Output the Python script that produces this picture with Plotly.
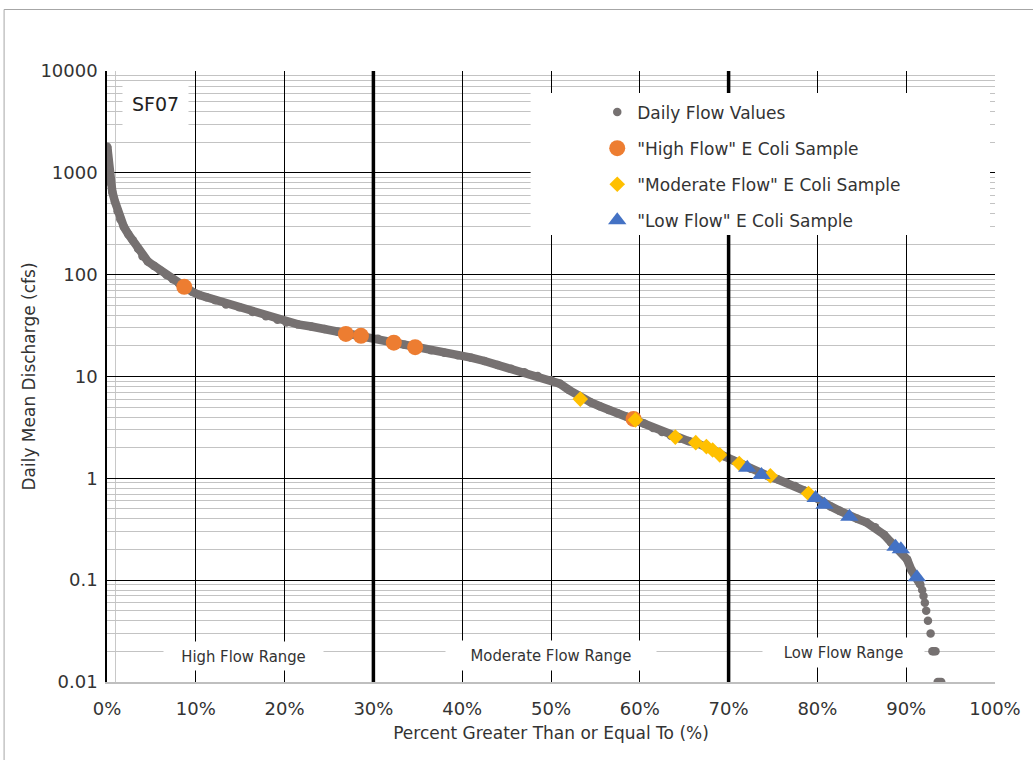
import plotly.graph_objects as go

# ---------------- data ----------------
flow_pct = [0.03, 0.06, 0.09, 0.12, 0.16, 0.2, 0.25, 0.3, 0.4, 0.6, 0.9, 1.2, 1.5, 1.9, 2.4,
            2.9, 3.5, 4.0, 4.6, 5.3, 6.0, 6.7, 7.4, 8.1, 8.8, 9.6, 10.4, 11.2, 12.2, 13.4,
            14.9, 16.4, 17.9, 19.2, 20.2, 21.5, 23.0, 24.5, 26.0, 27.5, 29.0, 30.5, 32.0,
            33.5, 35.0, 36.5, 38.0, 39.5, 41.0, 42.5, 44.0, 45.5, 47.0, 48.5, 50.0, 51.0,
            52.0, 53.3, 54.5, 55.5, 56.5, 57.5, 58.5, 59.5, 60.5, 61.5, 62.5, 63.5, 64.5,
            65.5, 66.5, 67.5, 68.5, 69.5, 70.5, 71.5, 72.5, 73.5, 74.5, 75.5, 76.5, 77.5,
            78.5, 79.5, 80.5, 81.5, 82.5, 83.5, 84.5, 85.5, 86.5, 87.5, 88.3, 89.0, 89.6,
            90.1, 90.6, 91.0, 91.35, 91.6]
flow_cfs = [1800, 1650, 1500, 1350, 1200, 1080, 980, 900, 800, 650, 520, 420, 350, 295, 250,
            218, 180, 152, 135, 122, 110, 99, 90, 82, 75, 68, 63, 60, 56, 51,
            48, 43, 39, 36, 34, 32.5, 31, 29.3, 27.5, 26, 25, 23.5, 22,
            20.5, 19.3, 18.1, 17.1, 16.2, 15.3, 14.2, 13.0, 11.9, 11.0, 10.1, 9.2, 8.5,
            7.4, 6.2, 5.55, 5.1, 4.7, 4.35, 4.05, 3.75, 3.45, 3.12, 2.85, 2.62, 2.45,
            2.32, 2.2, 2.04, 1.85, 1.65, 1.5, 1.38, 1.24, 1.12, 1.05, 0.98, 0.91, 0.84,
            0.76, 0.67, 0.58, 0.53, 0.48, 0.43, 0.40, 0.37, 0.33, 0.28, 0.235, 0.205, 0.185,
            0.16, 0.125, 0.11, 0.10, 0.09]
# low-flow tail where individual daily values show as separate dots
tail_pct = [91.8, 91.95, 92.1, 92.25, 92.45, 92.75, 92.95, 93.1, 93.3, 93.55, 93.75, 93.95]
tail_cfs = [0.08, 0.07, 0.06, 0.05, 0.04, 0.03, 0.02, 0.02, 0.02, 0.01, 0.01, 0.01]

high_pct = [8.7, 26.9, 28.6, 32.3, 34.7, 59.3]
high_cfs = [76, 26.2, 25.1, 21.5, 19.4, 3.83]

mod_pct = [53.3, 59.5, 64.0, 66.3, 67.5, 68.2, 69.0, 71.2, 74.7, 79.0]
mod_cfs = [6.0, 3.75, 2.54, 2.24, 2.05, 1.90, 1.70, 1.40, 1.06, 0.71]

low_pct = [72.1, 73.7, 79.8, 80.8, 83.6, 88.8, 89.4, 91.2]
low_cfs = [1.27, 1.08, 0.64, 0.55, 0.42, 0.213, 0.201, 0.107]

x_ticks = [0, 10, 20, 30, 40, 50, 60, 70, 80, 90, 100]
x_ticktext = [f"{v}%" for v in x_ticks]
y_ticks = [0.01, 0.1, 1, 10, 100, 1000, 10000]
y_ticktext = ["0.01", "0.1", "1", "10", "100", "1000", "10000"]
y_minor = [k * 10.0 ** e for e in range(-2, 4) for k in range(2, 10)]
range_bounds = [30, 70]
range_labels = ["High Flow Range", "Moderate Flow Range", "Low Flow Range"]
station = "SF07"

# ---------------- style ----------------
GRAY = "#767171"
ORANGE = "#ED7D31"
YELLOW = "#FFC000"
BLUE = "#4472C4"
TXT = "#333333"
FONT = "DejaVu Sans"

W, H = 1033, 760
ML, MT = 107, 71
PW, PH = 893, 611
MR, MB = W - ML - PW, H - MT - PH


def px(xp):  # page pixel x -> paper
    return (xp - ML) / PW


def py(yp):  # page pixel y -> paper
    return (MT + PH - yp) / PH


fig = go.Figure()

fig.add_trace(go.Scatter(x=flow_pct, y=flow_cfs, mode="lines",
                         line=dict(color=GRAY, width=8.5), showlegend=False,
                         legendgroup="g1", hoverinfo="skip"))
fig.add_trace(go.Scatter(x=flow_pct + tail_pct, y=flow_cfs + tail_cfs, mode="markers",
                         marker=dict(color=GRAY, size=8.5), name="Daily Flow Values",
                         legendgroup="g1"))
fig.add_trace(go.Scatter(x=high_pct, y=high_cfs, mode="markers",
                         marker=dict(color=ORANGE, size=16, symbol="circle"),
                         name='"High Flow" E Coli Sample', legendgroup="g2"))
fig.add_trace(go.Scatter(x=mod_pct, y=mod_cfs, mode="markers",
                         marker=dict(color=YELLOW, size=12, symbol="diamond"),
                         name='"Moderate Flow" E Coli Sample', legendgroup="g3"))
fig.add_trace(go.Scatter(x=low_pct, y=low_cfs, mode="markers",
                         marker=dict(color=BLUE, size=16, symbol="triangle-up"),
                         name='"Low Flow" E Coli Sample', legendgroup="g4"))

shapes = []
for b in range_bounds:
    shapes.append(dict(type="line", xref="x", yref="paper", x0=b, x1=b, y0=0, y1=1,
                       line=dict(color="black", width=3.5), layer="above"))
# white legend background box
shapes.append(dict(type="rect", xref="paper", yref="paper",
                   x0=px(533), x1=px(995), y0=py(235), y1=py(93),
                   fillcolor="white", line=dict(width=0), layer="above"))
# outer chart border (left and top visible)
shapes.append(dict(type="line", xref="paper", yref="paper", x0=px(3.5), x1=px(3.5),
                   y0=py(780), y1=py(9.5), line=dict(color="#a6a6a6", width=1)))
shapes.append(dict(type="line", xref="paper", yref="paper", x0=px(3.5), x1=px(1045),
                   y0=py(9.5), y1=py(9.5), line=dict(color="#a6a6a6", width=1)))

annotations = [
    dict(text=station, xref="paper", yref="paper", x=px(155.5), y=py(104),
         xanchor="center", yanchor="middle",
         showarrow=False, bgcolor="white", width=65, height=44, borderpad=0,
         font=dict(family=FONT, size=19, color="#222222")),
]
label_boxes = [(244.5, 656, 159, 28), (553, 655.5, 210, 29), (847.5, 652.5, 161, 29)]
for lab, (cx, cy, bw, bh) in zip(range_labels, label_boxes):
    annotations.append(dict(text=lab, xref="paper", yref="paper", x=px(cx), y=py(cy),
                            xanchor="center", yanchor="middle",
                            showarrow=False, bgcolor="white", width=bw, height=bh,
                            borderpad=0,
                            font=dict(family="DejaVu Sans Condensed", size=16.5, color=TXT)))

fig.update_layout(
    width=W, height=H,
    margin=dict(l=ML, r=MR, t=MT, b=MB, pad=0),
    paper_bgcolor="white", plot_bgcolor="white",
    font=dict(family=FONT, size=16, color=TXT),
    showlegend=True,
    hovermode=False,
    legend=dict(x=px(600), y=py(94.5), xanchor="left", yanchor="top",
                bgcolor="rgba(0,0,0,0)", font=dict(family=FONT, size=17, color=TXT),
                tracegroupgap=11, traceorder="grouped"),
    shapes=shapes,
    annotations=annotations,
    xaxis=dict(range=[0, 100], tickvals=x_ticks, ticktext=x_ticktext,
               showgrid=True, gridcolor="black", gridwidth=1,
               minor=dict(tickvals=[1], showgrid=True, gridcolor="#c8c8c8", gridwidth=1),
               showline=True, linecolor="#bfbfbf", linewidth=2, zeroline=False,
               ticks="", ticklabelstandoff=9,
               tickfont=dict(family=FONT, size=18, color=TXT),
               title=dict(text="Percent Greater Than or Equal To (%)", standoff=10,
                          font=dict(family=FONT, size=17, color=TXT))),
    yaxis=dict(type="log", range=[-2, 4], tickvals=y_ticks, ticktext=y_ticktext,
               showgrid=True, gridcolor="black", gridwidth=1.3,
               minor=dict(tickvals=y_minor, showgrid=True, gridcolor="#c3c3c3", gridwidth=1.3),
               showline=True, linecolor="black", linewidth=1.5, zeroline=False,
               ticks="", ticklabelstandoff=4,
               tickfont=dict(family=FONT, size=18, color=TXT),
               title=dict(text="Daily Mean Discharge (cfs)", standoff=0,
                          font=dict(family=FONT, size=17, color=TXT))),
)

fig.write_html("out.html",
               config={"displayModeBar": False},
               post_script="document.body.style.margin='0';"
                           "document.documentElement.style.overflow='hidden';")
